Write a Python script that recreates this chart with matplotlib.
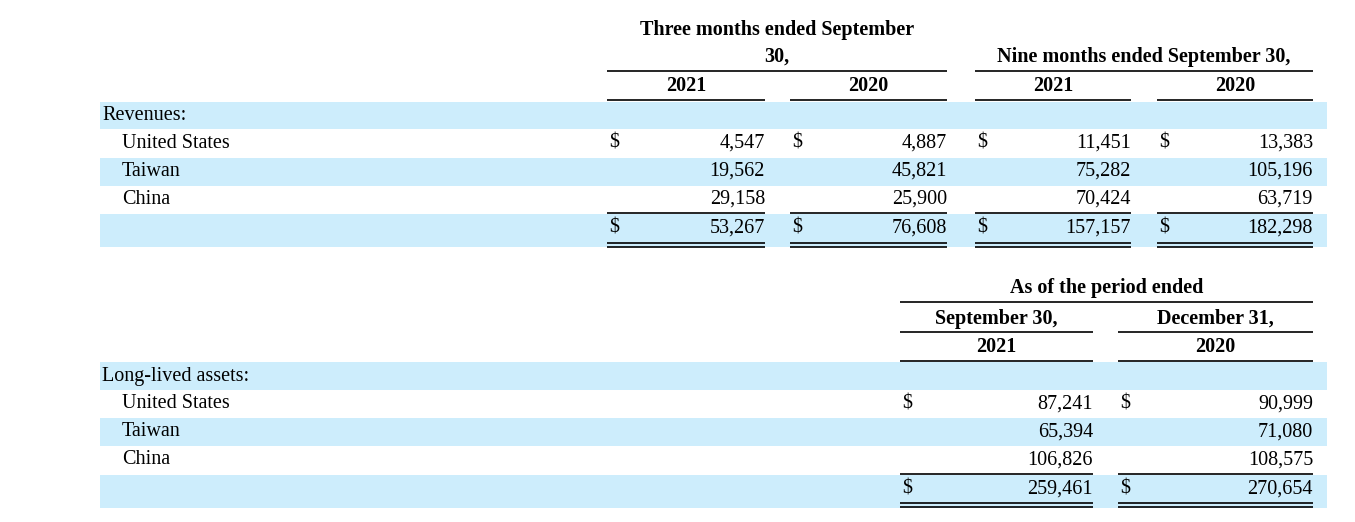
import matplotlib.pyplot as plt
from matplotlib.patches import Rectangle

plt.rcParams['font.family'] = ['Liberation Serif', 'DejaVu Serif']

regions = ["United States", "Taiwan", "China"]
rev_years = ["2021", "2020", "2021", "2020"]
revenues = [
    [4547, 4887, 11451, 13383],
    [19562, 45821, 75282, 105196],
    [29158, 25900, 70424, 63719],
]
rev_totals = [53267, 76608, 157157, 182298]

asset_dates = ["September 30,", "December 31,"]
asset_years = ["2021", "2020"]
assets = [
    [87241, 90999],
    [65394, 71080],
    [106826, 108575],
]
asset_totals = [259461, 270654]

SHADE = "#cdedfc"
FS = 14.5

fig = plt.figure(figsize=(13.55, 5.22), dpi=100)
ax = fig.add_axes([0, 0, 1, 1])
ax.set_xlim(0, 1355)
ax.set_ylim(522, 0)
ax.axis("off")


def hline(x0, x1, y, lw=1.2):
    ax.plot([x0, x1], [y, y], color="black", lw=lw, solid_capstyle="butt")


def shade(y0, y1):
    ax.add_patch(Rectangle((100, y0), 1227, y1 - y0, color=SHADE, lw=0, zorder=0))


def txt(x, y, s, ha="left", bold=False):
    ax.text(x, y, s, ha=ha, va="center", fontsize=FS,
            fontweight="bold" if bold else "normal")


# ---- Revenues table ----
rcols = [(607, 765), (790, 947), (975, 1131), (1157, 1313)]
for y0, y1 in [(102, 129), (158, 186), (214, 247)]:
    shade(y0, y1)

txt(777, 30, "Three months ended September", "center", True)
txt(777, 57, "30,", "center", True)
hline(607, 947, 71)
txt(1144, 57, "Nine months ended September 30,", "center", True)
hline(975, 1313, 71)
for (x0, x1), yr in zip(rcols, rev_years):
    txt((x0 + x1) / 2, 86, yr, "center", True)
    hline(x0, x1, 100)

txt(102, 115, "Revenues:")
row_y = [143, 171, 199]
for name, vals, y in zip(regions, revenues, row_y):
    txt(122, y, name)
    for (x0, x1), v in zip(rcols, vals):
        if name == "United States":
            txt(x0 + 2, y, "$")
        txt(x1, y, f"{v:,}", "right")
for (x0, x1), v in zip(rcols, rev_totals):
    txt(x0 + 2, 228, "$")
    txt(x1, 228, f"{v:,}", "right")
    hline(x0, x1, 213)
    hline(x0, x1, 243)
    hline(x0, x1, 247)

# ---- Long-lived assets table ----
acols = [(900, 1093), (1118, 1313)]
for y0, y1 in [(362, 390), (418, 446), (475, 508)]:
    shade(y0, y1)

txt(1107, 288, "As of the period ended", "center", True)
hline(900, 1313, 302)
for (x0, x1), d, yr in zip(acols, asset_dates, asset_years):
    txt((x0 + x1) / 2, 319, d, "center", True)
    txt((x0 + x1) / 2, 347, yr, "center", True)
hline(900, 1093, 332)
hline(1118, 1313, 332)
hline(900, 1093, 361)
hline(1118, 1313, 361)

txt(102, 376, "Long-lived assets:")
row_y = [404, 432, 460]
for name, vals, y in zip(regions, assets, row_y):
    txt(122, y, name)
    for (x0, x1), v in zip(acols, vals):
        if name == "United States":
            txt(x0 + 2, y, "$")
        txt(x1, y, f"{v:,}", "right")
for (x0, x1), v in zip(acols, asset_totals):
    txt(x0 + 2, 489, "$")
    txt(x1, 489, f"{v:,}", "right")
    hline(x0, x1, 474)
    hline(x0, x1, 503)
    hline(x0, x1, 507)

fig.savefig("out.png", dpi=100)
